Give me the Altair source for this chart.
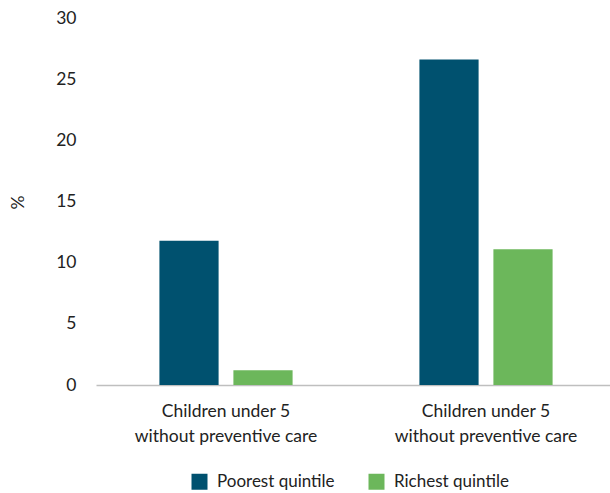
import json

import altair as alt
import pandas as pd

# Categories, their two-line tick labels and the two quintile series
groups = ["group_1", "group_2"]
group_labels = [
    ["Children under 5", "without preventive care"],
    ["Children under 5", "without preventive care"],
]
series = ["Poorest quintile", "Richest quintile"]
poorest = [11.8, 26.6]
richest = [1.2, 11.1]
colors = ["#00516f", "#6cb75b"]
y_ticks = [0, 5, 10, 15, 20, 25, 30]

rows = []
for g, p, r in zip(groups, poorest, richest):
    rows.append({"group": g, "series": series[0], "value": p})
    rows.append({"group": g, "series": series[1], "value": r})
df = pd.DataFrame(rows)

# Map each category key to its multi-line label
label_expr = " : ".join(
    f"datum.value == '{g}' ? {json.dumps(lab)}" for g, lab in zip(groups, group_labels)
) + " : datum.label"

FONT = "Lato"
TEXT = "#222222"
FS = 17.5

chart = (
    alt.Chart(df)
    .mark_bar()
    .encode(
        x=alt.X(
            "group:N",
            sort=groups,
            scale=alt.Scale(range=[0, 520], paddingInner=0, paddingOuter=0),
            axis=alt.Axis(
                title=None,
                labelAngle=0,
                ticks=False,
                labelExpr=label_expr,
                labelLimit=400,
                domainColor="#bfbfbf",
                domainWidth=1.5,
                labelPadding=17,
                labelFontSize=FS,
                labelLineHeight=25,
                labelColor=TEXT,
            ),
        ),
        xOffset=alt.XOffset(
            "series:N",
            sort=series,
            scale=alt.Scale(paddingInner=0.2, paddingOuter=0.857),
        ),
        y=alt.Y(
            "value:Q",
            scale=alt.Scale(domain=[0, 30], nice=False),
            axis=alt.Axis(
                values=y_ticks,
                title="%",
                grid=False,
                domain=False,
                ticks=False,
                labelPadding=20,
                labelFontSize=FS,
                labelColor=TEXT,
                titleFontSize=FS,
                titleFontWeight="normal",
                titleColor=TEXT,
                titleX=-78,
                titleY=184,
                titleAlign="center",
                titleBaseline="middle",
            ),
        ),
        color=alt.Color(
            "series:N",
            scale=alt.Scale(domain=series, range=colors),
            legend=alt.Legend(
                title=None,
                orient="none",
                direction="horizontal",
                legendX=95,
                legendY=455,
                padding=0,
                symbolType="square",
                symbolSize=256,
                symbolStrokeWidth=0,
                symbolOpacity=1,
                labelFontSize=17,
                labelColor=TEXT,
                labelOffset=9,
                columnPadding=33,
            ),
        ),
    )
    .properties(
        width=514,
        height=367,
        autosize="none",
        padding={"left": 96, "top": 18, "right": 0, "bottom": 108},
    )
    .configure(font=FONT)
    .configure_view(stroke=None)
)

chart.save("out.html", embed_options={"renderer": "svg", "actions": False})
